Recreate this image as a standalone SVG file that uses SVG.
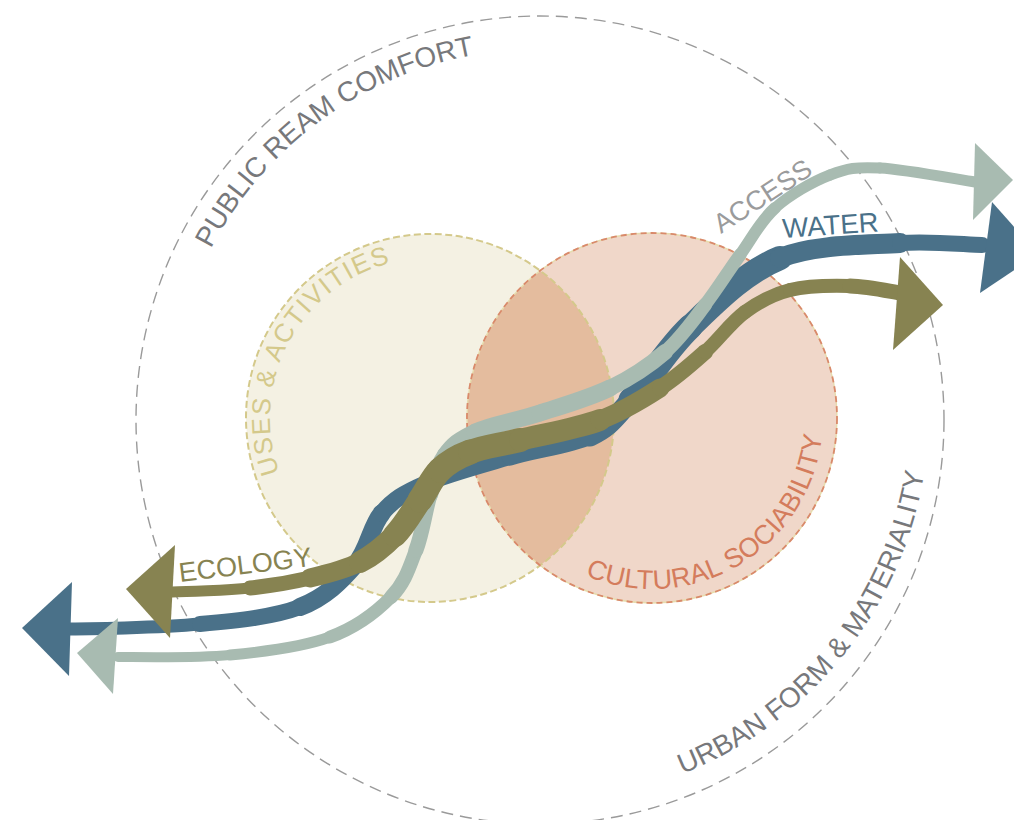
<svg xmlns="http://www.w3.org/2000/svg" width="1014" height="820" viewBox="0 0 1014 820">
<style>
.lbl{font-family:"Liberation Sans",Arial,Helvetica,sans-serif}
.gray{fill:#77787b}
.water{fill:none;stroke:#4a7189;stroke-linecap:round}
.access{fill:none;stroke:#a8bbb1;stroke-linecap:round}
.eco{fill:none;stroke:#878351;stroke-linecap:round}
</style>
<defs>
<path id="arc-public" d="M210.9,248.7 A371,371 0 0 1 572.3,50.4"/>
<path id="arc-urban" d="M682.6,773.9 A389,389 0 0 0 927.5,378.1"/>
<path id="arc-uses" d="M279.6,472.7 A160,160 0 0 1 402.2,260.4"/>
<path id="arc-cult" d="M585.2,575.4 A171,171 0 0 0 820.4,388.3"/>
</defs>
<rect width="1014" height="820" fill="#ffffff"/>
<g id="outer-ring">
<circle cx="540" cy="420" r="404" fill="none" stroke="#9a9a9a" stroke-width="1.4" stroke-dasharray="12 7"/>
<text class="lbl gray" font-size="28"><textPath href="#arc-public">PUBLIC REAM COMFORT</textPath></text>
<text class="lbl gray" font-size="28"><textPath href="#arc-urban">URBAN FORM &amp; MATERIALITY</textPath></text>
</g>
<g id="uses-activities">
<circle cx="430" cy="418" r="184" fill="#f4f1e3"/>
</g>
<g id="cultural-sociability">
<circle cx="652" cy="418" r="185" fill="#f0d7c9"/>
</g>
<g id="overlap">
<path d="M540.2,270.7 A184,184 0 0 1 540.2,565.3 A185,185 0 0 1 540.2,270.7 Z" fill="#e4bc9e"/>
</g>
<g id="circle-borders">
<circle cx="430" cy="418" r="184" fill="none" stroke="#d4c98b" stroke-width="2" stroke-dasharray="7 3.5"/>
<circle cx="652" cy="418" r="185" fill="none" stroke="#e6dcae" stroke-width="1.4"/>
<circle cx="652" cy="418" r="185" fill="none" stroke="#d9896b" stroke-width="1.8" stroke-dasharray="6 4"/>
<text class="lbl" fill="#d4c98b" font-size="26" letter-spacing="1.5"><textPath href="#arc-uses">USES &amp; ACTIVITIES</textPath></text>
<text class="lbl" fill="#d47c5c" font-size="27" letter-spacing="0.3"><textPath href="#arc-cult">CULTURAL SOCIABILITY</textPath></text>
</g>
<g id="connectors">
<g id="water">
<path class="water" stroke-width="13" d="M62,629 C85,629 160.3,627.7 200,624"/>
<path class="water" stroke-width="16" d="M200,624 C239.7,620.3 274.2,616.8 300,607"/>
<path class="water" stroke-width="18" d="M300,607 C325.8,597.2 341.3,580.7 355,565"/>
<path class="water" stroke-width="18" d="M355,565 C368.7,549.3 370.3,526.5 382,513"/>
<path class="water" stroke-width="17" d="M382,513 C393.7,499.5 403.7,493.3 425,484"/>
<path class="water" stroke-width="16" d="M425,484 C446.3,474.7 482.5,465 510,457"/>
<path class="water" stroke-width="17" d="M510,457 C537.5,449 569.8,445.5 590,436"/>
<path class="water" stroke-width="21" d="M590,436 C610.2,426.5 614.3,418.2 631,400"/>
<path class="water" stroke-width="25" d="M631,400 C647.7,381.8 665.2,350.7 690,327"/>
<path class="water" stroke-width="24" d="M690,327 C714.8,303.3 745,272 780,258"/>
<path class="water" stroke-width="20" d="M780,258 C815,244 866.3,245.2 900,243"/>
<path class="water" stroke-width="16" d="M900,243 C933.7,240.8 968,245 982,245"/>
<polygon fill="#4a7189" points="22,628 72,582 69,676"/>
<polygon fill="#4a7189" points="992,202 1038,254 980,293"/>
<text class="lbl" fill="#4a7189" font-size="27.5" x="783" y="238" transform="rotate(-4 783 238)">WATER</text>
</g>
<g id="access">
<path class="access" stroke-width="10" d="M118,657 C137,657 194.7,658.3 230,655"/>
<path class="access" stroke-width="11" d="M230,655 C265.3,651.7 303.2,646.7 330,637"/>
<path class="access" stroke-width="13" d="M330,637 C356.8,627.3 376.7,611.5 391,597"/>
<path class="access" stroke-width="14" d="M391,597 C405.3,582.5 409.5,567 416,550"/>
<path class="access" stroke-width="15" d="M416,550 C422.5,533 425.2,510.8 430,495"/>
<path class="access" stroke-width="16" d="M430,495 C434.8,479.2 437.5,465.5 445,455"/>
<path class="access" stroke-width="16" d="M445,455 C452.5,444.5 459.2,439 475,432"/>
<path class="access" stroke-width="17" d="M475,432 C490.8,425 517.5,420.3 540,413"/>
<path class="access" stroke-width="17" d="M540,413 C562.5,405.7 589.2,398.2 610,388"/>
<path class="access" stroke-width="16" d="M610,388 C630.8,377.8 649.2,365.8 665,352"/>
<path class="access" stroke-width="14" d="M665,352 C680.8,338.2 692.5,321.2 705,305"/>
<path class="access" stroke-width="13" d="M705,305 C717.5,288.8 728.3,271.2 740,255"/>
<path class="access" stroke-width="12" d="M740,255 C751.7,238.8 760,221.3 775,208"/>
<path class="access" stroke-width="11" d="M775,208 C790,194.7 812.5,181.7 830,175"/>
<path class="access" stroke-width="11" d="M830,175 C847.5,168.3 855.8,166.8 880,168"/>
<path class="access" stroke-width="11" d="M880,168 C904.2,169.2 959.2,179.7 975,182"/>
<polygon fill="#a8bbb1" points="77,653 118,618 113,694"/>
<polygon fill="#a8bbb1" points="975,143 1013,180 973,220"/>
<text class="lbl" fill="#9a9b9c" font-size="27" x="721" y="234" transform="rotate(-33 721 234)">ACCESS</text>
</g>
<g id="ecology">
<path class="eco" stroke-width="11" d="M172,592 C185,592 227,590.3 250,588"/>
<path class="eco" stroke-width="15" d="M250,588 C273,585.7 291.7,582.3 310,578"/>
<path class="eco" stroke-width="19" d="M310,578 C328.3,573.7 345.8,569.2 360,562"/>
<path class="eco" stroke-width="22" d="M360,562 C374.2,554.8 385,545.3 395,535"/>
<path class="eco" stroke-width="24" d="M395,535 C405,524.7 412.5,510.8 420,500"/>
<path class="eco" stroke-width="25" d="M420,500 C427.5,489.2 431.7,478 440,470"/>
<path class="eco" stroke-width="25" d="M440,470 C448.3,462 456.7,457 470,452"/>
<path class="eco" stroke-width="24" d="M470,452 C483.3,447 498.3,445.3 520,440"/>
<path class="eco" stroke-width="22" d="M520,440 C541.7,434.7 576.7,428.7 600,420"/>
<path class="eco" stroke-width="19" d="M600,420 C623.3,411.3 642.5,399.3 660,388"/>
<path class="eco" stroke-width="16" d="M660,388 C677.5,376.7 690.8,364.7 705,352"/>
<path class="eco" stroke-width="14" d="M705,352 C719.2,339.3 730.8,322.3 745,312"/>
<path class="eco" stroke-width="14" d="M745,312 C759.2,301.7 772.5,294.3 790,290"/>
<path class="eco" stroke-width="14" d="M790,290 C807.5,285.7 831.7,285.5 850,286"/>
<path class="eco" stroke-width="15" d="M850,286 C868.3,286.5 891.7,291.8 900,293"/>
<polygon fill="#878351" points="126,589 175,545 170,638"/>
<polygon fill="#878351" points="900,257 943,305 893,350"/>
<text class="lbl" fill="#878351" font-size="27" x="180" y="582" transform="rotate(-7 180 582)">ECOLOGY</text>
</g>
</g>
</svg>
